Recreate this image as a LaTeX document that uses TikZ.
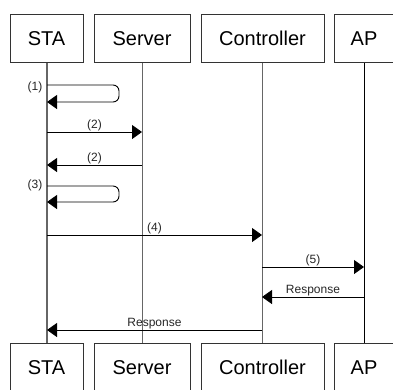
\documentclass[tikz,border=0pt]{standalone}
\usepackage{fontspec}
\setmainfont{Liberation Sans}
\usetikzlibrary{arrows.meta}
\begin{document}
\begin{tikzpicture}[x=1pt,y=-1pt,
  actor/.style={draw=black!80,line width=0.9pt,fill=white,minimum height=48pt,inner sep=0pt,font=\fontsize{20}{24}\selectfont,anchor=north},
  life/.style={draw=black!60,line width=1pt},
  msg/.style={draw=black,line width=0.9pt,-{Triangle[length=10pt,width=14pt]}},
  lab/.style={font=\fontsize{12}{14}\selectfont,text=black!85,inner sep=1pt}]
\useasboundingbox (0,0) rectangle (393,389);
% top actors
\node[actor,minimum width=73pt] (staT) at (46.5,14) {STA};
\node[actor,minimum width=96pt] (srvT) at (142,14) {Server};
\node[actor,minimum width=123pt] (ctlT) at (262.5,14) {Controller};
\node[actor,minimum width=59pt] (apT) at (364,14) {AP};
% bottom actors
\node[actor,minimum width=73pt] (staB) at (46.5,343) {STA};
\node[actor,minimum width=96pt] (srvB) at (142,343) {Server};
\node[actor,minimum width=123pt] (ctlB) at (262.5,343) {Controller};
\node[actor,minimum width=59pt] (apB) at (364,343) {AP};
% lifelines
\coordinate (sta) at (47,0);
\coordinate (srv) at (142,0);
\coordinate (ctl) at (262,0);
\coordinate (ap) at (364,0);
\draw[life,line width=1.5pt] (sta |- staT.south) -- (sta |- staB.north);
\draw[life] (srv |- srvT.south) -- (srv |- srvB.north);
\draw[life] (ctl |- ctlT.south) -- (ctl |- ctlB.north);
\draw[life,draw=black] (ap |- apT.south) -- (ap |- apB.north);
% (1) self
\coordinate (s1a) at (47,85);
\coordinate (s1b) at (47,102);
\draw[msg,rounded corners=6pt] (s1a) -- (119,85) -- (119,102) -- (s1b);
\node[lab] (l1) at (35,87) {(1)};
% (2) request
\coordinate (m2a) at (47,132);
\coordinate (m2b) at (142,132);
\draw[msg] (m2a) -- node[lab,above] (l2) {(2)} (m2b);
% (2) reply
\coordinate (m3a) at (142,165);
\coordinate (m3b) at (47,165);
\draw[msg] (m3a) -- node[lab,above] (l3) {(2)} (m3b);
% (3) self
\coordinate (s3a) at (47,186);
\coordinate (s3b) at (47,202);
\draw[msg,rounded corners=6pt] (s3a) -- (119,186) -- (119,202) -- (s3b);
\node[lab] (l4) at (35,185) {(3)};
% (4)
\coordinate (m4a) at (47,235);
\coordinate (m4b) at (262,235);
\draw[msg] (m4a) -- node[lab,above] (l5) {(4)} (m4b);
% (5)
\coordinate (m5a) at (262,267);
\coordinate (m5b) at (364,267);
\draw[msg] (m5a) -- node[lab,above] (l6) {(5)} (m5b);
% Response AP -> Controller
\coordinate (m6a) at (364,297);
\coordinate (m6b) at (262,297);
\draw[msg] (m6a) -- node[lab,above] (l7) {Response} (m6b);
% Response Controller -> STA
\coordinate (m7a) at (262,330);
\coordinate (m7b) at (47,330);
\draw[msg] (m7a) -- node[lab,above] (l8) {Response} (m7b);
\end{tikzpicture}
\end{document}
